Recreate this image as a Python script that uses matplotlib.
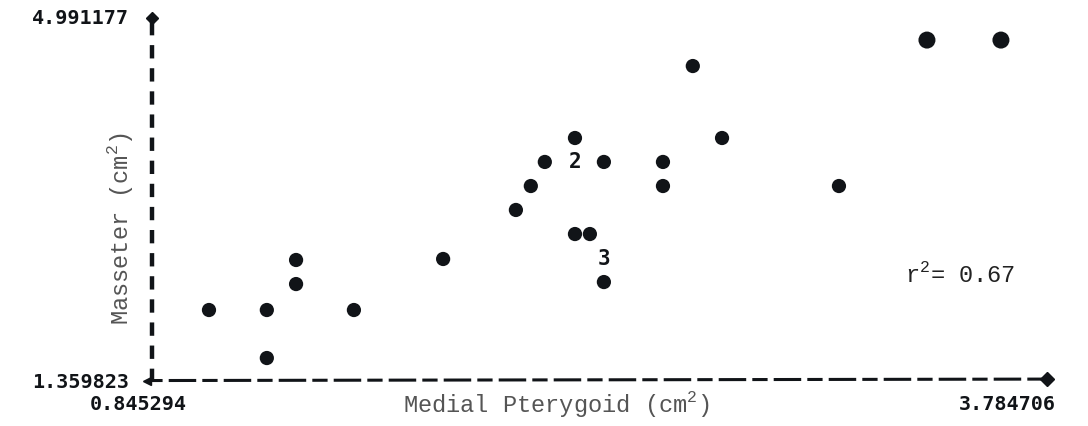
import numpy as np
import matplotlib
matplotlib.use("Agg")
from matplotlib import pyplot as plt

plt.rcParams['mathtext.fontset'] = 'custom'
plt.rcParams['mathtext.rm'] = 'Liberation Mono'

# axis range (printed as tick labels at the ends)
x_min, x_max = 0.845294, 3.784706
y_min, y_max = 1.359823, 4.991177

# single points: Medial Pterygoid vs Masseter (cm^2)
medial = [1.039, 1.229, 1.229, 1.325, 1.325, 1.515, 1.808, 2.047, 2.096,
          2.142, 2.241, 2.336, 2.241, 2.290, 2.336, 2.530, 2.530, 2.628,
          2.724, 3.108, 3.397, 3.640]
masseter = [2.078, 2.078, 1.599, 2.577, 2.337, 2.078, 2.587, 3.076, 3.315,
            3.555, 3.794, 3.555, 2.836, 2.836, 2.357, 3.555, 3.315, 4.512,
            3.794, 3.315, 4.771, 4.771]

# overlapping points shown as a count
multi_x = [2.241, 2.336]
multi_y = [3.555, 2.587]
multi_n = ['2', '3']

r2_text = 'r$^2$= 0.67'

fig = plt.figure(figsize=(10.88, 4.26), dpi=100)
ax = fig.add_axes([150 / 1088, 1 - 382 / 426, 895 / 1088, 364 / 426])
ax.set_xlim(x_min, x_max)
ax.set_ylim(y_min, y_max)
ax.axis('off')

ink = '#111418'

# Plot the points
x = np.array(medial)
y = np.array(masseter)
sizes = np.where(y > 4.7, 150, 105)
ax.scatter(x, y, s=sizes, c=ink, marker='o', linewidths=0, clip_on=False, zorder=3)
for mx, my, n in zip(multi_x, multi_y, multi_n):
    ax.text(mx, my, n, ha='center', va='center', fontsize=15, fontweight='heavy',
            family='DejaVu Sans Mono', color=ink, zorder=3)

# Dashed axes drawn by hand
ax.plot([0.002, 0.002], [0.0, 1.0], transform=ax.transAxes, color=ink, lw=3.2,
        linestyle=(0, (3.0, 2.2)), clip_on=False)
ax.plot([0.002], [1.0], transform=ax.transAxes, marker='D', ms=6, color=ink, clip_on=False)
ax.plot([-0.003, 1.002], [0.004, 0.008], transform=ax.transAxes, color=ink, lw=2.2,
        linestyle=(0, (5, 2, 9, 2)), clip_on=False)
ax.plot([1.002], [0.008], transform=ax.transAxes, marker='D', ms=7, color=ink, clip_on=False)
ax.plot([-0.003], [0.004], transform=ax.transAxes, marker='<', ms=6, color=ink, clip_on=False)

# End values
tick_kw = dict(fontsize=14.5, fontweight='bold', family='DejaVu Sans Mono', color=ink)
fig.text(129 / 1088, 1 - 18 / 426, '4.991177', ha='right', va='center', **tick_kw)
fig.text(129 / 1088, 1 - 383 / 426, '1.359823', ha='right', va='center', **tick_kw)
fig.text(138 / 1088, 1 - 405 / 426, '0.845294', ha='center', va='center', **tick_kw)
fig.text(1007 / 1088, 1 - 405 / 426, '3.784706', ha='center', va='center', **tick_kw)

# Axis titles
lab_kw = dict(fontsize=17, family='Liberation Mono', color='#555555')
fig.text(556 / 1088, 1 - 404 / 426, 'Medial Pterygoid (cm$^2$)', ha='center', va='center', **lab_kw)
fig.text(120 / 1088, 1 - 228 / 426, 'Masseter (cm$^2$)', ha='center', va='center',
         rotation=90, **lab_kw)

fig.text(960 / 1088, 1 - 275 / 426, r2_text, ha='center', va='center',
         fontsize=17, family='Liberation Mono', color='#222222')

fig.savefig('out.png', dpi=100, facecolor='white')
